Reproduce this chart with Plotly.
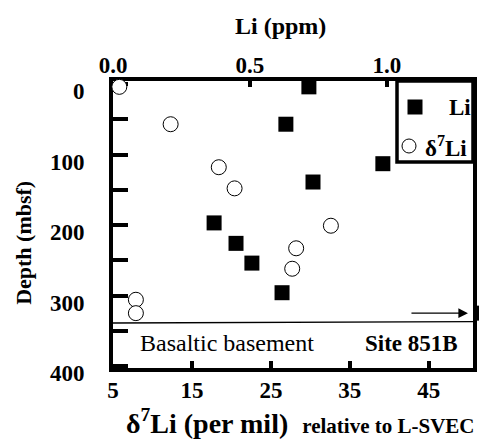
import plotly.graph_objects as go

# δ7Li data (bottom axis, per mil) vs depth (mbsf)
d7li_values = [5.8, 12.3, 18.4, 20.4, 32.6, 28.2, 27.7, 7.9, 7.9]
d7li_depths = [4, 57, 118, 148, 201, 233, 262, 306, 325]

# Li concentration (top axis, ppm) vs depth (mbsf); last value is off-scale
li_values = [0.715, 0.631, 0.985, 0.730, 0.369, 0.449, 0.507, 0.617, 1.35]
li_depths = [4, 57, 113, 139, 197, 226, 254, 296, 325]

bottom_ticks = [5, 15, 25, 35, 45]
top_ticks = [0.0, 0.5, 1.0]
top_ticktext = ["0.0", "0.5", "1.0"]
depth_ticks = [0, 50, 100, 150, 200, 250, 300, 350, 400]
depth_ticktext = ["0", "", "100", "", "200", "", "300", "", "400"]

legend_labels = ["Li", "δ<sup>7</sup>Li"]

basement_depth = [339, 337]
arrow_depth = 325

D7LI_RANGE = [5, 50.6]
LI_RANGE = [0, 1.314]
DEPTH_RANGE = [402.8, -4.3]

FONT = "Liberation Serif, Times New Roman, serif"

# plot area spans a fraction of the paper so an off-scale mark can sit to its right
DOM = 360 / 374
li_in = [(v, d) for v, d in zip(li_values, li_depths) if v <= LI_RANGE[1]]
li_out = [(v, d) for v, d in zip(li_values, li_depths) if v > LI_RANGE[1]]

fig = go.Figure()
fig.add_trace(go.Scatter(
    x=[p[0] for p in li_in], y=[p[1] for p in li_in], mode="markers", name="Li",
    xaxis="x2", yaxis="y",
    marker=dict(symbol="square", size=15, color="black"),
    cliponaxis=False,
))
fig.add_trace(go.Scatter(
    x=[p[0] for p in li_out], y=[p[1] for p in li_out], mode="markers", name="Li",
    xaxis="x3", yaxis="y",
    marker=dict(symbol="square", size=15, color="black"),
    cliponaxis=False,
))
fig.add_trace(go.Scatter(
    x=d7li_values, y=d7li_depths, mode="markers", name="δ7Li",
    xaxis="x", yaxis="y",
    marker=dict(symbol="circle", size=15, color="white", line=dict(width=1, color="black")),
    cliponaxis=False,
))

tickfont = dict(family=FONT, size=23, color="black", weight="bold")
boldfont = dict(family=FONT, size=23, color="black", weight="bold")

# legend box (drawn by hand to match the compact original)
LX0, LX1 = (397 - 113) / 374, DOM
LY0, LY1 = (368 - 162) / 287, 1.0
row1_y = (368 - 107) / 287
row2_y = (368 - 146) / 287

shapes = [
    dict(type="line", xref="x domain", yref="y", x0=0, x1=1,
         y0=basement_depth[0], y1=basement_depth[1], line=dict(color="black", width=1.3)),
    dict(type="rect", xref="paper", yref="paper", x0=LX0, x1=LX1, y0=LY0, y1=LY1,
         line=dict(color="black", width=3.5), fillcolor="white", layer="above"),
    dict(type="rect", xref="paper", yref="paper", xsizemode="pixel", ysizemode="pixel",
         xanchor=(415 - 113) / 374, yanchor=row1_y, x0=-7.5, x1=7.5, y0=-7.5, y1=7.5,
         line=dict(width=0), fillcolor="black", layer="above"),
    dict(type="circle", xref="paper", yref="paper", xsizemode="pixel", ysizemode="pixel",
         xanchor=(409 - 113) / 374, yanchor=row2_y, x0=-7, x1=7, y0=-7, y1=7,
         line=dict(width=1, color="black"), fillcolor="white", layer="above"),
]

fig.update_layout(
    width=479, height=431,
    margin=dict(l=105, r=0, t=73, b=71),
    paper_bgcolor="white", plot_bgcolor="rgba(0,0,0,0)",
    font=dict(family=FONT, color="black"),
    showlegend=False,
    xaxis=dict(
        domain=[0, DOM], range=D7LI_RANGE, tickvals=bottom_ticks, ticks="inside",
        ticklen=7, tickwidth=4, tickcolor="black", showline=True, linewidth=4,
        linecolor="black", mirror=True, showgrid=False, zeroline=False,
        tickfont=tickfont, ticklabelstandoff=-2, layer="below traces",
    ),
    xaxis2=dict(
        range=LI_RANGE, overlaying="x", side="top", tickvals=top_ticks,
        ticktext=top_ticktext, ticks="inside", ticklen=6, tickwidth=4, tickcolor="black",
        showline=True, linewidth=4, linecolor="black", showgrid=False, zeroline=False,
        tickfont=tickfont, ticklabelstandoff=-5, layer="below traces",
    ),
    xaxis3=dict(
        domain=[0, 1], range=[LI_RANGE[0], LI_RANGE[1] / DOM], anchor="y",
        visible=False, showgrid=False, zeroline=False,
    ),
    yaxis=dict(
        range=DEPTH_RANGE, tickvals=depth_ticks, ticktext=depth_ticktext, ticks="inside",
        ticklen=15, tickwidth=4, tickcolor="black", showline=True, linewidth=4,
        linecolor="black", mirror=True, showgrid=False, zeroline=False,
        tickfont=tickfont, ticklabelstandoff=20, ticklabelshift=-7, layer="below traces",
    ),
    shapes=shapes,
    annotations=[
        dict(xref="x domain", yref="y", x=0.986, y=arrow_depth, ax=-58, ay=0,
             showarrow=True, arrowhead=2, arrowsize=1.6, arrowwidth=1.2,
             arrowcolor="black", text=""),
        dict(xref="paper", yref="paper", x=(447 - 113) / 374, y=row1_y,
             xanchor="left", yanchor="middle", showarrow=False,
             text=legend_labels[0], font=boldfont),
        dict(xref="paper", yref="paper", x=(423 - 113) / 374, y=row2_y,
             xanchor="left", yanchor="middle", showarrow=False,
             text=legend_labels[1], font=boldfont),
        dict(xref="paper", yref="paper", x=0.067, y=0.087, xanchor="left", yanchor="middle",
             text="Basaltic basement", showarrow=False,
             font=dict(family=FONT, size=24, color="black")),
        dict(xref="paper", yref="paper", x=0.928, y=0.087, xanchor="right", yanchor="middle",
             text="Site 851B", showarrow=False, font=boldfont),
        dict(xref="paper", yref="paper", x=0.449, y=1.192, xanchor="center", yanchor="middle",
             text="Li (ppm)", showarrow=False,
             font=dict(family=FONT, size=24, color="black", weight="bold")),
        dict(xref="paper", yref="paper", x=-0.238, y=0.436, xanchor="center", yanchor="middle",
             text="Depth (mbsf)", textangle=-90, showarrow=False,
             font=dict(family=FONT, size=22, color="black", weight="bold")),
        dict(xref="paper", yref="paper", x=0.5, y=-0.188, xanchor="center", yanchor="middle",
             text="δ<sup>7</sup>Li (per mil)  <span style='font-size:21px'>relative to L-SVEC</span>",
             showarrow=False, font=dict(family=FONT, size=28, color="black", weight="bold")),
    ],
)

fig.write_html("out.html")
